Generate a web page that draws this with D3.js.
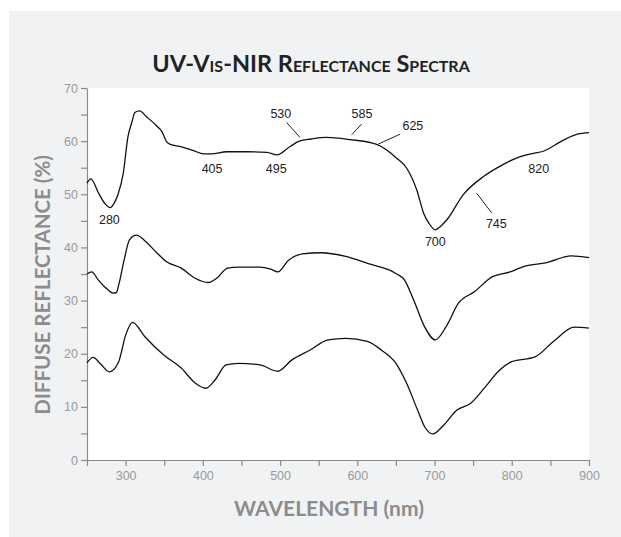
<html>
<head>
<script src="https://d3js.org/d3.v7.min.js"></script>
<style>
  body { margin: 0; background: #fff; }
  text { font-family: "Liberation Sans", Arial, sans-serif; }
</style>
</head>
<body>
<svg id="chart" width="621" height="537"></svg>
<script>
// wavelength (nm) and reflectance (%)
var topNm  = [250, 255, 265, 273, 280, 285, 290, 297, 303, 308, 312, 318, 327, 340, 347, 353, 358, 370, 388, 401, 411, 431, 457, 483, 496, 513, 525, 540, 560, 590, 625, 651, 664, 677, 686, 693, 701, 708, 716, 737, 763, 785, 806, 825, 841, 867, 885, 900];
var topVal = [52.1, 52.9, 50.2, 48.3, 47.5, 48.3, 49.9, 54.0, 60.8, 63.5, 65.4, 65.7, 64.6, 62.9, 61.8, 59.9, 59.4, 59.0, 58.2, 57.6, 57.6, 58.0, 58.0, 57.9, 57.4, 59.0, 60.0, 60.4, 60.7, 60.3, 59.4, 56.8, 54.9, 50.8, 46.4, 44.5, 43.3, 44.0, 45.2, 49.9, 53.3, 55.3, 56.8, 57.6, 58.1, 60.2, 61.3, 61.6];

var midNm  = [250, 256, 265, 275, 284, 288, 291, 298, 305, 314, 326, 339, 353, 372, 390, 407, 418, 432, 446, 474, 488, 497, 511, 529, 553, 585, 613, 650, 661, 673, 687, 701, 715, 731, 752, 775, 798, 817, 844, 877, 900];
var midVal = [35.0, 35.4, 33.8, 32.3, 31.4, 31.5, 32.9, 37.6, 41.4, 42.3, 41.1, 39.2, 37.3, 36.1, 34.2, 33.4, 34.2, 36.1, 36.3, 36.3, 35.9, 35.4, 37.6, 38.8, 39.0, 38.3, 37.0, 35.1, 33.9, 30.1, 25.1, 22.6, 25.1, 29.5, 31.7, 34.5, 35.4, 36.5, 37.1, 38.4, 38.1];

var botNm  = [250, 258, 268, 279, 291, 300, 309, 325, 349, 372, 390, 404, 416, 430, 446, 474, 497, 515, 539, 562, 585, 613, 631, 650, 664, 678, 687, 698, 712, 729, 747, 766, 784, 800, 830, 854, 881, 900];
var botVal = [18.3, 19.3, 18.0, 16.6, 18.5, 23.5, 25.9, 23.2, 19.8, 17.3, 14.5, 13.5, 15.1, 17.9, 18.2, 17.9, 16.7, 18.8, 20.7, 22.6, 22.9, 22.3, 20.7, 18.2, 14.4, 9.4, 6.3, 4.9, 6.6, 9.4, 10.7, 13.8, 16.9, 18.5, 19.4, 22.3, 25.0, 24.8];

// band labels on the top spectrum (text position in nm / %)
var bandText = ["280", "405", "495", "530", "585", "625", "700", "745", "820"];
var bandX    = [279, 412, 495, 501, 606, 672, 701, 780, 835];
var bandY    = [45.2, 54.9, 54.9, 65.2, 65.2, 62.9, 41.1, 44.5, 54.9];
// leader lines [x1, y1, x2, y2] in nm / %
var leaders = [
  [525.8, 60.7, 508.5, 63.5],
  [592.7, 61.2, 605.6, 63.2],
  [626.4, 59.4, 655.3, 61.3],
  [754.5, 50.2, 774.0, 46.5]
];

var xTicks = [300, 400, 500, 600, 700, 800, 900];
var yTicks = [0, 10, 20, 30, 40, 50, 60, 70];

var svg = d3.select('#chart');

svg.append('rect')
  .attr('x', 9).attr('y', 11)
  .attr('width', 612).attr('height', 526)
  .attr('fill', '#f1f2f4');

var plotLeft = 87, plotRight = 589, plotTop = 88, plotBottom = 460;

var x = d3.scaleLinear().domain([250, 900]).range([plotLeft, plotRight]);
var y = d3.scaleLinear().domain([0, 70]).range([plotBottom, plotTop]);

svg.append('rect')
  .attr('x', plotLeft).attr('y', plotTop)
  .attr('width', plotRight - plotLeft).attr('height', plotBottom - plotTop)
  .attr('fill', '#fff');

// axes
var xAxis = svg.append('g')
  .attr('transform', 'translate(0,' + plotBottom + ')')
  .call(d3.axisBottom(x).tickValues(d3.range(250, 901, 50)).tickSize(6).tickSizeOuter(0)
    .tickFormat(function(d) { return xTicks.indexOf(d) >= 0 ? d : ''; }));

var yAxis = svg.append('g')
  .attr('transform', 'translate(' + plotLeft + ',0)')
  .call(d3.axisLeft(y).tickValues(d3.range(0, 71, 5)).tickSize(6).tickSizeOuter(0)
    .tickFormat(function(d) { return yTicks.indexOf(d) >= 0 ? d : ''; }));

[xAxis, yAxis].forEach(function(a) {
  a.select('.domain').attr('stroke', '#8a8a8a').attr('stroke-width', 1.2);
  a.selectAll('.tick line').attr('stroke', '#8a8a8a').attr('stroke-width', 1.2);
  a.selectAll('.tick text')
    .attr('fill', '#9a9a9a')
    .style('font-size', '12.5px')
    .style('font-family', '"Liberation Sans", Arial, sans-serif');
});
xAxis.selectAll('.tick text').attr('dy', '0.9em');
yAxis.selectAll('.tick text').attr('x', -9);

// spectra
var line = d3.line()
  .x(function(d) { return x(d[0]); })
  .y(function(d) { return y(d[1]); })
  .curve(d3.curveMonotoneX);

[[topNm, topVal], [midNm, midVal], [botNm, botVal]].forEach(function(s) {
  svg.append('path')
    .datum(d3.zip(s[0], s[1]))
    .attr('fill', 'none')
    .attr('stroke', '#111')
    .attr('stroke-width', 1.3)
    .attr('d', line);
});

// annotations
svg.selectAll('.leader')
  .data(leaders)
  .enter()
  .append('line')
  .attr('x1', function(d) { return x(d[0]); })
  .attr('y1', function(d) { return y(d[1]); })
  .attr('x2', function(d) { return x(d[2]); })
  .attr('y2', function(d) { return y(d[3]); })
  .attr('stroke', '#222')
  .attr('stroke-width', 1);

svg.selectAll('.band')
  .data(bandText)
  .enter()
  .append('text')
  .attr('x', function(d, i) { return x(bandX[i]); })
  .attr('y', function(d, i) { return y(bandY[i]); })
  .attr('dy', '0.35em')
  .attr('text-anchor', 'middle')
  .attr('fill', '#222')
  .style('font-size', '12.5px')
  .text(function(d) { return d; });

// titles
svg.append('text')
  .attr('x', 311).attr('y', 72)
  .attr('text-anchor', 'middle')
  .attr('fill', '#222')
  .style('font-family', 'Lato, "Open Sans", sans-serif')
  .style('font-weight', 'bold')
  .style('font-size', '23.5px')
  .style('font-variant', 'small-caps')
  .text('UV-Vis-NIR Reflectance Spectra');

svg.append('text')
  .attr('x', 329).attr('y', 516)
  .attr('text-anchor', 'middle')
  .attr('fill', '#8c8c8c')
  .style('font-family', 'Lato, "Open Sans", sans-serif')
  .style('font-weight', 'bold')
  .style('font-size', '21px')
  .text('WAVELENGTH (nm)');

svg.append('text')
  .attr('transform', 'translate(50,285) rotate(-90)')
  .attr('text-anchor', 'middle')
  .attr('fill', '#8c8c8c')
  .style('font-family', 'Lato, "Open Sans", sans-serif')
  .style('font-weight', 'bold')
  .style('font-size', '20.5px')
  .text('DIFFUSE REFLECTANCE (%)');
</script>
</body>
</html>
